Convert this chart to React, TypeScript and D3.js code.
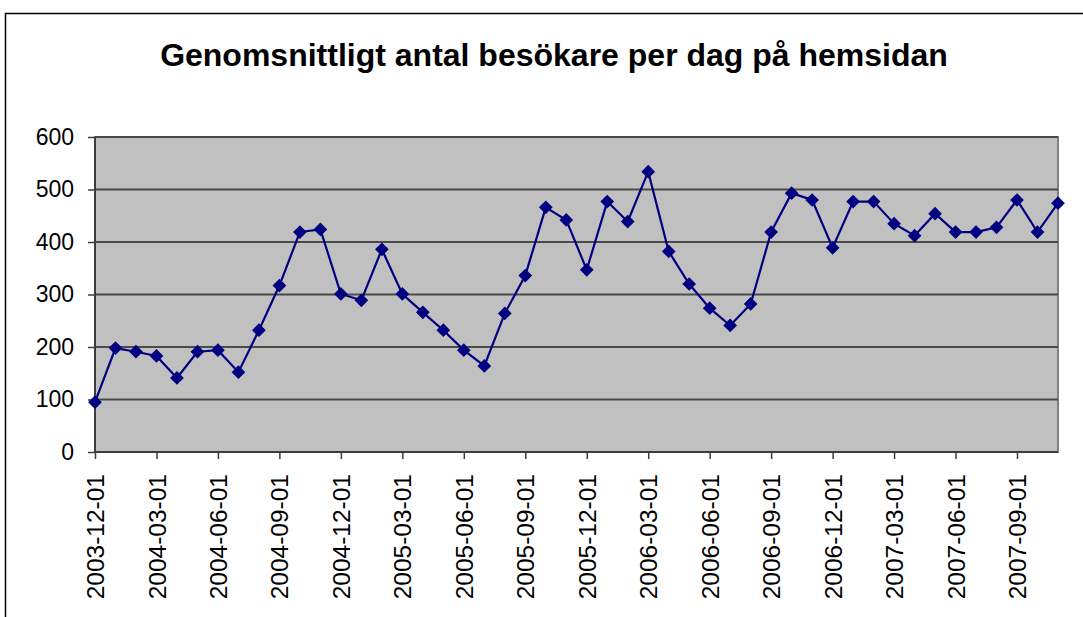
import React, { useEffect, useRef } from "react";
import * as d3 from "d3";

const title = "Genomsnittligt antal besökare per dag på hemsidan";

// monthly, first month 2003-12
const months = [
  "2003-12-01", "2004-01-01", "2004-02-01", "2004-03-01", "2004-04-01", "2004-05-01",
  "2004-06-01", "2004-07-01", "2004-08-01", "2004-09-01", "2004-10-01", "2004-11-01",
  "2004-12-01", "2005-01-01", "2005-02-01", "2005-03-01", "2005-04-01", "2005-05-01",
  "2005-06-01", "2005-07-01", "2005-08-01", "2005-09-01", "2005-10-01", "2005-11-01",
  "2005-12-01", "2006-01-01", "2006-02-01", "2006-03-01", "2006-04-01", "2006-05-01",
  "2006-06-01", "2006-07-01", "2006-08-01", "2006-09-01", "2006-10-01", "2006-11-01",
  "2006-12-01", "2007-01-01", "2007-02-01", "2007-03-01", "2007-04-01", "2007-05-01",
  "2007-06-01", "2007-07-01", "2007-08-01", "2007-09-01", "2007-10-01", "2007-11-01",
];

const visitors = [
  95, 198, 191, 183, 141, 191, 194, 152, 232, 317, 419, 424,
  301, 289, 386, 301, 266, 232, 194, 164, 264, 336, 466, 442,
  347, 477, 439, 534, 382, 320, 274, 241, 282, 419, 493, 480,
  389, 477, 477, 435, 412, 454, 419, 419, 428, 480, 419, 474,
];

const yTicks = [0, 100, 200, 300, 400, 500, 600];

const font = "'Liberation Sans', Arial, sans-serif";

export default function App() {
  const ref = useRef<SVGSVGElement>(null);
  const width = 1083;
  const height = 617;
  const plot = { left: 95, right: 1058, top: 137, bottom: 452 };

  useEffect(() => {
    const svg = d3.select(ref.current);
    svg.selectAll("*").remove();

    const x = d3
      .scalePoint<string>()
      .domain(months)
      .range([plot.left, plot.right]);
    const y = d3.scaleLinear().domain([0, 600]).range([plot.bottom, plot.top]);

    // chart frame
    svg.append("rect")
      .attr("x", 5.5)
      .attr("y", 13.5)
      .attr("width", width + 10)
      .attr("height", height + 10)
      .attr("fill", "#fff")
      .attr("stroke", "#000")
      .attr("stroke-width", 1.5);

    svg.append("text")
      .attr("x", 554)
      .attr("y", 66)
      .attr("text-anchor", "middle")
      .style("font-family", font)
      .style("font-weight", "bold")
      .style("font-size", "32px")
      .text(title);

    // plot area
    svg.append("rect")
      .attr("x", plot.left)
      .attr("y", plot.top)
      .attr("width", plot.right - plot.left)
      .attr("height", plot.bottom - plot.top)
      .attr("fill", "#c0c0c0")
      .attr("stroke", "#808080")
      .attr("stroke-width", 2);

    // gridlines
    svg.append("g")
      .selectAll("line")
      .data(yTicks.filter((t) => t > 0))
      .join("line")
      .attr("x1", plot.left)
      .attr("x2", plot.right)
      .attr("y1", (d) => y(d))
      .attr("y2", (d) => y(d))
      .attr("stroke", "#4a4a4a")
      .attr("stroke-width", 2);

    // y axis
    const yAxis = svg.append("g")
      .attr("transform", `translate(${plot.left},0)`)
      .call(d3.axisLeft(y).tickValues(yTicks).tickSize(7).tickPadding(14));
    yAxis.select(".domain").attr("stroke", "#3c3c3c").attr("stroke-width", 2)
      .attr("d", `M0,${plot.top}V${plot.bottom}`);
    yAxis.selectAll(".tick line").attr("stroke", "#3c3c3c").attr("stroke-width", 1.5);
    yAxis.selectAll("text")
      .attr("fill", "#000")
      .style("font-family", font)
      .style("font-size", "23px");

    // x axis
    const labelMonths = months.filter((_, i) => i % 3 === 0);
    const xAxis = svg.append("g")
      .attr("transform", `translate(0,${plot.bottom})`)
      .call(d3.axisBottom(x).tickValues(labelMonths).tickSize(7).tickPadding(0));
    xAxis.select(".domain").attr("stroke", "#3c3c3c").attr("stroke-width", 2)
      .attr("d", `M${plot.left},0H${plot.right}`);
    xAxis.selectAll(".tick line").attr("stroke", "#3c3c3c").attr("stroke-width", 1.5);
    xAxis.selectAll("text")
      .attr("fill", "#000")
      .attr("transform", "rotate(-90)")
      .attr("text-anchor", "end")
      .attr("x", -22)
      .attr("y", 0)
      .attr("dy", "0.35em")
      .style("font-family", font)
      .style("font-size", "24.5px");

    const line = d3
      .line<number>()
      .x((_, i) => x(months[i]) as number)
      .y((d) => y(d));

    svg.append("path")
      .datum(visitors)
      .attr("d", line)
      .attr("fill", "none")
      .attr("stroke", "#000080")
      .attr("stroke-width", 2.2);

    const diamond = d3.symbol().type(d3.symbolDiamond2).size(120);
    svg.append("g")
      .selectAll("path")
      .data(visitors)
      .join("path")
      .attr("d", diamond)
      .attr("transform", (d, i) => `translate(${x(months[i])},${y(d)})`)
      .attr("fill", "#000080");
  }, []);

  return (
    <svg
      ref={ref}
      width={width}
      height={height}
      style={{ position: "absolute", left: 0, top: 0, background: "#fff" }}
    />
  );
}
